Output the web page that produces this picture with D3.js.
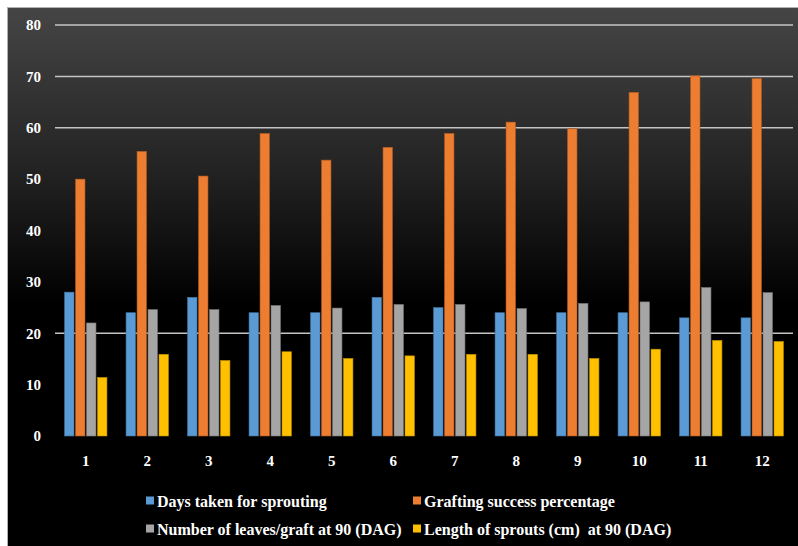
<!DOCTYPE html>
<html>
<head>
<meta charset="utf-8">
<script src="https://cdn.jsdelivr.net/npm/d3@7"></script>
<style>
  html, body { margin: 0; padding: 0; background: #ffffff; }
  svg { display: block; }
</style>
</head>
<body>
<svg id="chart" width="798" height="546"></svg>
<script>
const categories = ["1","2","3","4","5","6","7","8","9","10","11","12"];
const seriesNames = [
  "Days taken for sprouting",
  "Grafting success percentage",
  "Number of leaves/graft at 90 (DAG)",
  "Length of sprouts (cm)  at 90 (DAG)"
];
const daysSprouting   = [28, 24, 27, 24, 24, 27, 25, 24, 24, 24, 23, 23];
const graftingSuccess = [50, 55.4, 50.6, 58.9, 53.7, 56.2, 58.9, 61.1, 59.8, 66.9, 70.1, 69.6];
const leavesPerGraft  = [22, 24.6, 24.6, 25.4, 24.9, 25.6, 25.6, 24.8, 25.8, 26.1, 28.9, 27.9];
const sproutLength    = [11.4, 15.9, 14.7, 16.4, 15.1, 15.6, 15.9, 15.9, 15.1, 16.9, 18.6, 18.4];
const yTicks = [0, 10, 20, 30, 40, 50, 60, 70, 80];
const gridValues = [20, 60, 70, 80];
const colors = ["#5b9bd5", "#ed7d31", "#a5a5a5", "#ffc000"];
const strokes = ["#41719c", "#ae5a21", "#787878", "#bc8c00"];

const allSeries = [daysSprouting, graftingSuccess, leavesPerGraft, sproutLength];

const svg = d3.select("#chart");
const W = 798, H = 546;

// background
const defs = svg.append("defs");
const grad = defs.append("linearGradient").attr("id", "bg")
  .attr("x1", 0).attr("y1", 0).attr("x2", 0).attr("y2", 1);
grad.append("stop").attr("offset", "0%").attr("stop-color", "#454545");
grad.append("stop").attr("offset", "30%").attr("stop-color", "#232323");
grad.append("stop").attr("offset", "55%").attr("stop-color", "#000000");
grad.append("stop").attr("offset", "100%").attr("stop-color", "#000000");

svg.append("rect").attr("x", 7.5).attr("y", 7.5).attr("width", W - 7).attr("height", H - 7)
  .attr("fill", "url(#bg)").attr("stroke", "#b0b0b0").attr("stroke-width", 1);

const x0 = d3.scaleBand().domain(categories).range([55, 793]).padding(0);
const x1 = d3.scaleBand().domain(d3.range(4)).range([0, x0.bandwidth()])
  .paddingInner(0.14).paddingOuter(0.87);
const y = d3.scaleLinear().domain([0, 80]).range([436, 25]);

// gridlines
svg.append("g").selectAll("line").data(gridValues).join("line")
  .attr("x1", 55).attr("x2", 793)
  .attr("y1", d => y(d)).attr("y2", d => y(d))
  .attr("stroke", "#c4c4c4").attr("stroke-width", 1.5);

// y axis
const yAxis = svg.append("g").attr("transform", "translate(41,0)")
  .call(d3.axisLeft(y).tickValues(yTicks).tickSize(0).tickPadding(0).tickFormat(d3.format("d")));
yAxis.select(".domain").remove();
yAxis.selectAll("text")
  .attr("fill", "#ffffff")
  .style("font-family", "'Liberation Serif', 'Times New Roman', serif")
  .style("font-weight", "bold").style("font-size", "15px");

// x axis
const xAxis = svg.append("g").attr("transform", "translate(0,451)")
  .call(d3.axisBottom(x0).tickSize(0).tickPadding(4));
xAxis.select(".domain").remove();
xAxis.selectAll("text")
  .attr("fill", "#ffffff")
  .style("font-family", "'Liberation Serif', 'Times New Roman', serif")
  .style("font-weight", "bold").style("font-size", "15px");

// bars
const groups = svg.append("g").selectAll("g").data(categories).join("g")
  .attr("transform", d => `translate(${x0(d)},0)`);
groups.selectAll("rect")
  .data((d, i) => allSeries.map((s, k) => ({ k, v: s[i] })))
  .join("rect")
  .attr("x", d => x1(d.k))
  .attr("width", x1.bandwidth())
  .attr("y", d => y(d.v))
  .attr("height", d => y(0) - y(d.v))
  .attr("fill", d => colors[d.k])
  .attr("stroke", d => strokes[d.k])
  .attr("stroke-width", 0.6);

// legend
const legendPos = [
  { x: 146, y: 501 },
  { x: 413, y: 501 },
  { x: 146, y: 529 },
  { x: 413, y: 529 }
];
const legend = svg.append("g").selectAll("g").data(seriesNames).join("g")
  .attr("transform", (d, i) => `translate(${legendPos[i].x},${legendPos[i].y})`);
legend.append("rect").attr("x", 0).attr("y", -4.5).attr("width", 8).attr("height", 8)
  .attr("fill", (d, i) => colors[i]);
legend.append("text").attr("x", 11).attr("y", 5.5)
  .attr("fill", "#ffffff")
  .style("font-family", "'Liberation Serif', 'Times New Roman', serif")
  .style("font-weight", "bold").style("font-size", "16px")
  .style("white-space", "pre")
  .text(d => d);
</script>
</body>
</html>
